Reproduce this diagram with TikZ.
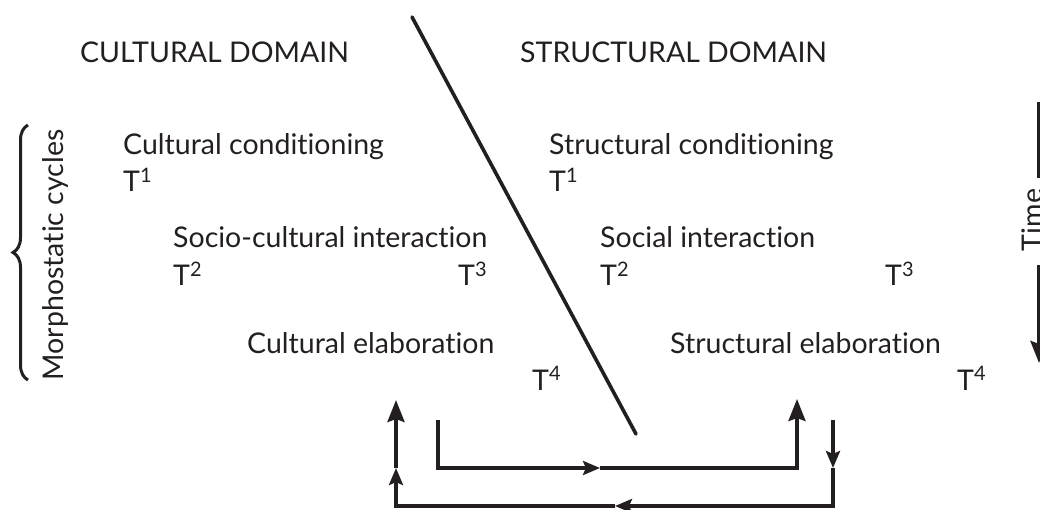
\documentclass[tikz,border=0pt]{standalone}
\usepackage{fontspec}
\setmainfont{Lato}[Ligatures=NoCommon]
\usetikzlibrary{arrows.meta,decorations.pathreplacing}
\definecolor{ink}{HTML}{231F20}
\begin{document}
\begin{tikzpicture}[x=1pt,y=-1pt,
  lbl/.style={anchor=base west,inner sep=0pt,font=\fontsize{28.5}{32}\selectfont,text=ink},
  conn/.style={draw=ink,line width=3.6pt},
  bigtip/.style={-{Stealth[length=22pt,width=17pt,inset=3pt]}},
  midtip/.style={-{Stealth[length=17pt,width=14pt,inset=3pt]}}]
\clip (0,0) rectangle (1040,510);
\useasboundingbox (0,0) rectangle (1040,510);
% headers
\node[lbl] (hc) at (80,63) {CULTURAL DOMAIN};
\node[lbl] (hs) at (520,63) {STRUCTURAL DOMAIN};
% divider
\coordinate (d1) at (412,17);
\coordinate (d2) at (636,434);
\draw[draw=ink,line width=3.6pt,line cap=round] (d1) -- (d2);
% cultural side
\node[lbl] (cc) at (123,155) {Cultural conditioning};
\node[lbl] (ct1) at (123,192) {T\textsuperscript{1}};
\node[lbl] (sci) at (173,248) {Socio-cultural interaction};
\node[lbl] (ct2) at (173,286) {T\textsuperscript{2}};
\node[lbl] (ct3) at (458,286) {T\textsuperscript{3}};
\node[lbl] (ce) at (247,353) {Cultural elaboration};
\node[lbl] (ct4) at (532,390) {T\textsuperscript{4}};
% structural side
\node[lbl] (sc) at (549,155) {Structural conditioning};
\node[lbl] (st1) at (549,192) {T\textsuperscript{1}};
\node[lbl] (si) at (600,248) {Social interaction};
\node[lbl] (st2) at (600,286) {T\textsuperscript{2}};
\node[lbl] (st3) at (885,286) {T\textsuperscript{3}};
\node[lbl] (se) at (670,353) {Structural elaboration};
\node[lbl] (st4) at (957,390) {T\textsuperscript{4}};
% brace and label
\coordinate (b1) at (28,380);
\coordinate (b2) at (28,125);
\draw[draw=ink,line width=3pt,decorate,decoration={brace,amplitude=15pt}] (b1) -- (b2);
\node[lbl,anchor=base,rotate=90] (mc) at (63,255) {Morphostatic cycles};
% time arrow
\coordinate (t1) at (1039,102);
\coordinate (t2) at (1039,178);
\coordinate (t3) at (1039,265);
\coordinate (t4) at (1039,363);
\draw[conn] (t1) -- (t2);
\node[lbl,anchor=base,rotate=90] (time) at (1042,220) {Time};
\draw[conn,bigtip] (t3) -- (t4);
% inner loop
\coordinate (i1) at (438,420);
\coordinate (im) at (600,468);
\coordinate (i2) at (797,399);
\draw[conn,midtip] (i1) |- (im);
\draw[conn,bigtip] (im) -| (i2);
% outer loop
\coordinate (o1) at (833,420);
\coordinate (o2) at (833,468);
\coordinate (om) at (615,506);
\coordinate (o3) at (396,468);
\coordinate (o4) at (396,400);
\draw[conn,midtip] (o1) -- (o2);
\draw[conn,midtip] (o2) |- (om);
\draw[conn,midtip] (om) -| (o3);
\draw[conn,bigtip] (o3) -- (o4);
\end{tikzpicture}
\end{document}
